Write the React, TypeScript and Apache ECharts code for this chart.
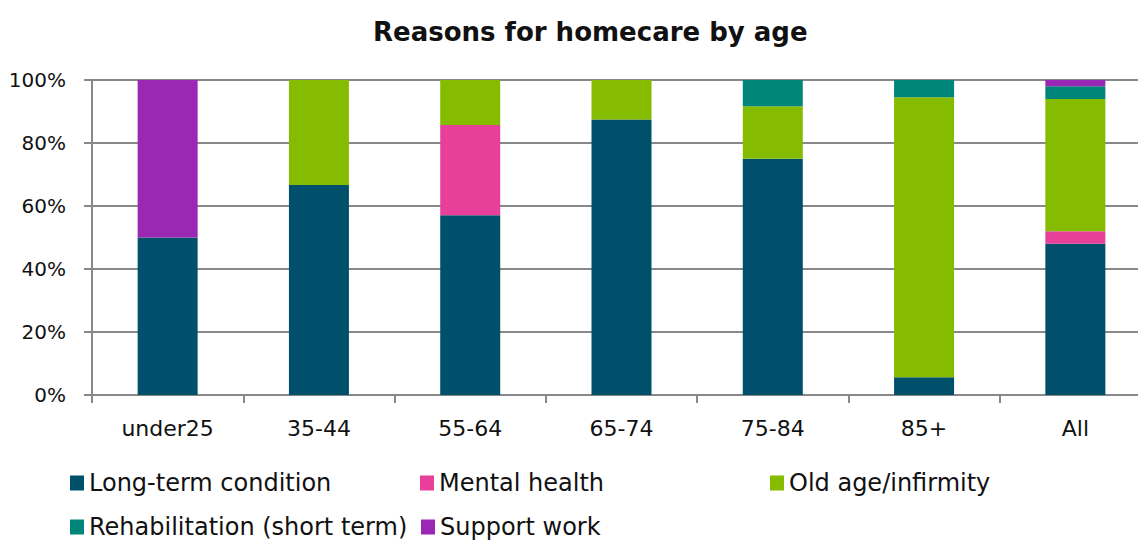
import React, { useEffect, useRef } from "react";
import * as echarts from "echarts";

const categories = ["under25", "35-44", "55-64", "65-74", "75-84", "85+", "All"];
const longTerm = [50, 66.7, 57.1, 87.5, 75, 5.6, 48];
const mentalHealth = [0, 0, 28.6, 0, 0, 0, 4];
const oldAge = [0, 33.3, 14.3, 12.5, 16.7, 88.9, 42];
const rehab = [0, 0, 0, 0, 8.3, 5.5, 4];
const supportWork = [50, 0, 0, 0, 0, 0, 2];
const seriesNames = [
  "Long-term condition",
  "Mental health",
  "Old age/infirmity",
  "Rehabilitation (short term)",
  "Support work",
];
const colors = ["#00506B", "#E8409A", "#86BC00", "#00857A", "#9B27B5"];
const yTicks = [0, 20, 40, 60, 80, 100];

const FONT = "'DejaVu Sans', sans-serif";

export default function App() {
  const ref = useRef<HTMLDivElement>(null);
  useEffect(() => {
    if (!ref.current) return;
    const chart = echarts.init(ref.current, null, { renderer: "svg" });
    const values = [longTerm, mentalHealth, oldAge, rehab, supportWork];
    const legendPos = [
      { left: 70, top: 471 },
      { left: 420, top: 471 },
      { left: 770, top: 471 },
      { left: 70, top: 515 },
      { left: 421, top: 515 },
    ];
    chart.setOption({
      animation: false,
      title: {
        text: "Reasons for homecare by age",
        left: 368,
        top: 14,
        textStyle: { fontFamily: FONT, fontSize: 26, fontWeight: "bold", color: "#111" },
      },
      legend: seriesNames.map((n, i) => ({
        data: [n],
        left: legendPos[i].left,
        top: legendPos[i].top,
        icon: "rect",
        itemWidth: 14,
        itemHeight: 15,
        itemGap: 0,
        padding: 0,
        textStyle: { fontFamily: FONT, fontSize: 24, color: "#111" },
        selectedMode: false,
      })),
      grid: {
        left: 92,
        width: 1059,
        top: 80,
        bottom: 147,
        containLabel: false,
        outerBoundsMode: "none",
      },
      xAxis: {
        type: "category",
        data: categories,
        axisLine: { show: true, lineStyle: { color: "#888", width: 2 } },
        axisTick: { show: true, alignWithLabel: false, length: 8, lineStyle: { color: "#888", width: 2 } },
        axisLabel: { fontFamily: FONT, fontSize: 22, color: "#111", margin: 22 },
      },
      yAxis: {
        type: "value",
        min: 0,
        max: 100,
        interval: 20,
        axisLine: { show: true, lineStyle: { color: "#888", width: 2 } },
        axisTick: { show: true, length: 8, lineStyle: { color: "#888", width: 2 } },
        splitLine: { show: true, lineStyle: { color: "#888", width: 2 } },
        axisLabel: {
          fontFamily: FONT,
          fontSize: 20,
          color: "#111",
          margin: 26,
          formatter: (v: number) => (yTicks.includes(v) ? v + "%" : ""),
        },
      },
      series: seriesNames.map((n, i) => ({
        name: n,
        type: "bar",
        stack: "total",
        barWidth: 60,
        data: values[i],
        itemStyle: { color: colors[i] },
      })),
    });
    return () => chart.dispose();
  }, []);
  return <div ref={ref} style={{ width: 1138, height: 542, position: "absolute", left: 0, top: 0, overflow: "hidden" }} />;
}
